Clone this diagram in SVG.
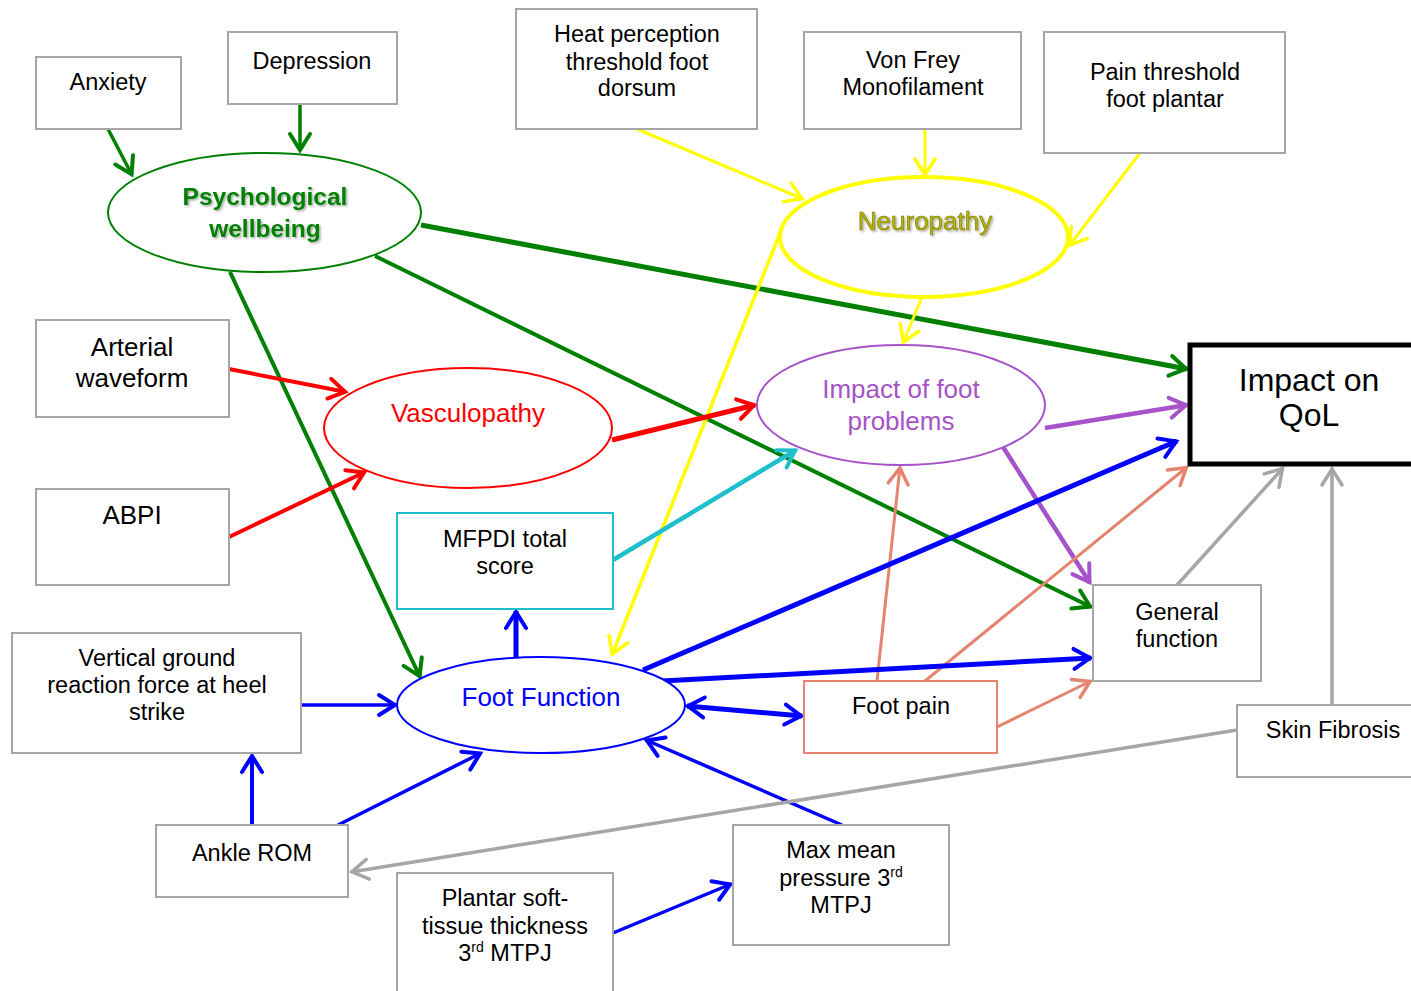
<svg xmlns="http://www.w3.org/2000/svg" width="1411" height="991" viewBox="0 0 1411 991">
<style>
text{font-family:"Liberation Sans",Arial,sans-serif;text-anchor:middle}
.box{fill:#fff;stroke:#a6a6a6;stroke-width:2}
.t{font-size:23.5px;fill:#000}
.tl{font-size:26px;fill:#000}
.el{fill:#fff;stroke-width:2}
.c{fill:none;stroke-linecap:butt}
</style>
<defs>
<filter id="sh" x="-10%" y="-10%" width="130%" height="140%"><feDropShadow dx="1.5" dy="1.5" stdDeviation="0.8" flood-color="#000" flood-opacity="0.35"/></filter>
<marker id="mg" markerUnits="userSpaceOnUse" markerWidth="40" markerHeight="40" viewBox="-20 -20 40 40" refX="0" refY="0" orient="auto" overflow="visible"><path d="M-17,-10 L-1,0 L-17,10" fill="none" stroke="#008000" stroke-width="4" stroke-linecap="round"/></marker>
<marker id="my" markerUnits="userSpaceOnUse" markerWidth="40" markerHeight="40" viewBox="-20 -20 40 40" refX="0" refY="0" orient="auto" overflow="visible"><path d="M-17,-10 L-1,0 L-17,10" fill="none" stroke="#ffff00" stroke-width="3.5" stroke-linecap="round"/></marker>
<marker id="mr" markerUnits="userSpaceOnUse" markerWidth="40" markerHeight="40" viewBox="-20 -20 40 40" refX="0" refY="0" orient="auto" overflow="visible"><path d="M-17,-10 L-1,0 L-17,10" fill="none" stroke="#ff0000" stroke-width="4" stroke-linecap="round"/></marker>
<marker id="mc" markerUnits="userSpaceOnUse" markerWidth="40" markerHeight="40" viewBox="-20 -20 40 40" refX="0" refY="0" orient="auto" overflow="visible"><path d="M-17,-10 L-1,0 L-17,10" fill="none" stroke="#1ebfcc" stroke-width="4" stroke-linecap="round"/></marker>
<marker id="mp" markerUnits="userSpaceOnUse" markerWidth="40" markerHeight="40" viewBox="-20 -20 40 40" refX="0" refY="0" orient="auto" overflow="visible"><path d="M-17,-10 L-1,0 L-17,10" fill="none" stroke="#a652c8" stroke-width="4" stroke-linecap="round"/></marker>
<marker id="ms" markerUnits="userSpaceOnUse" markerWidth="40" markerHeight="40" viewBox="-20 -20 40 40" refX="0" refY="0" orient="auto" overflow="visible"><path d="M-17,-10 L-1,0 L-17,10" fill="none" stroke="#e4846f" stroke-width="3.5" stroke-linecap="round"/></marker>
<marker id="mb" markerUnits="userSpaceOnUse" markerWidth="40" markerHeight="40" viewBox="-20 -20 40 40" refX="0" refY="0" orient="auto-start-reverse" overflow="visible"><path d="M-17,-10 L-1,0 L-17,10" fill="none" stroke="#0000ff" stroke-width="4" stroke-linecap="round"/></marker>
<marker id="ma" markerUnits="userSpaceOnUse" markerWidth="40" markerHeight="40" viewBox="-20 -20 40 40" refX="0" refY="0" orient="auto" overflow="visible"><path d="M-17,-10 L-1,0 L-17,10" fill="none" stroke="#a6a6a6" stroke-width="3.5" stroke-linecap="round"/></marker>
</defs>
<rect width="1411" height="991" fill="#fff"/>

<g id="connectors" class="c">
<line x1="108" y1="129" x2="132" y2="175" stroke="#008000" stroke-width="3.5" marker-end="url(#mg)"/>
<line x1="300" y1="104" x2="300" y2="151" stroke="#008000" stroke-width="3.5" marker-end="url(#mg)"/>
<line x1="421" y1="225" x2="1187" y2="369" stroke="#008000" stroke-width="5" marker-end="url(#mg)"/>
<line x1="375" y1="256" x2="1091" y2="607" stroke="#008000" stroke-width="4" marker-end="url(#mg)"/>
<line x1="230" y1="272" x2="420" y2="677" stroke="#008000" stroke-width="4" marker-end="url(#mg)"/>
<line x1="637" y1="129" x2="803" y2="199" stroke="#ffff00" stroke-width="3" marker-end="url(#my)"/>
<line x1="925" y1="129" x2="925" y2="176" stroke="#ffff00" stroke-width="3" marker-end="url(#my)"/>
<line x1="1140" y1="153" x2="1069" y2="246" stroke="#ffff00" stroke-width="3" marker-end="url(#my)"/>
<line x1="922" y1="297" x2="903" y2="343" stroke="#ffff00" stroke-width="3" marker-end="url(#my)"/>
<line x1="782" y1="228" x2="612" y2="655" stroke="#ffff00" stroke-width="3.5" marker-end="url(#my)"/>
<line x1="229" y1="369" x2="346" y2="392" stroke="#ff0000" stroke-width="4" marker-end="url(#mr)"/>
<line x1="229" y1="537" x2="365" y2="472" stroke="#ff0000" stroke-width="4" marker-end="url(#mr)"/>
<line x1="612" y1="440" x2="755" y2="405" stroke="#ff0000" stroke-width="5" marker-end="url(#mr)"/>
<line x1="613" y1="560" x2="796" y2="450" stroke="#1ebfcc" stroke-width="4.5" marker-end="url(#mc)"/>
<line x1="1045" y1="428" x2="1187" y2="405" stroke="#a652c8" stroke-width="4.5" marker-end="url(#mp)"/>
<line x1="1003" y1="447" x2="1090" y2="583" stroke="#a652c8" stroke-width="4.5" marker-end="url(#mp)"/>
<line x1="877" y1="681" x2="900" y2="467" stroke="#e4846f" stroke-width="3" marker-end="url(#ms)"/>
<line x1="925" y1="681" x2="1187" y2="467" stroke="#e4846f" stroke-width="3" marker-end="url(#ms)"/>
<line x1="997" y1="727" x2="1091" y2="681" stroke="#e4846f" stroke-width="3" marker-end="url(#ms)"/>
<line x1="643" y1="670" x2="1177" y2="441" stroke="#0000ff" stroke-width="5" marker-end="url(#mb)"/>
<line x1="662" y1="681" x2="1091" y2="658" stroke="#0000ff" stroke-width="5" marker-end="url(#mb)"/>
<line x1="687" y1="706" x2="802" y2="716" stroke="#0000ff" stroke-width="5" marker-start="url(#mb)" marker-end="url(#mb)"/>
<line x1="516" y1="657" x2="516" y2="611" stroke="#0000ff" stroke-width="5" marker-end="url(#mb)"/>
<line x1="301" y1="705" x2="396" y2="705" stroke="#0000ff" stroke-width="3.5" marker-end="url(#mb)"/>
<line x1="252" y1="825" x2="252" y2="755" stroke="#0000ff" stroke-width="4" marker-end="url(#mb)"/>
<line x1="338" y1="825" x2="481" y2="753" stroke="#0000ff" stroke-width="3.5" marker-end="url(#mb)"/>
<line x1="842" y1="825" x2="646" y2="740" stroke="#0000ff" stroke-width="3.5" marker-end="url(#mb)"/>
<line x1="613" y1="933" x2="731" y2="884" stroke="#0000ff" stroke-width="3.5" marker-end="url(#mb)"/>
<line x1="1177" y1="585" x2="1283" y2="468" stroke="#a6a6a6" stroke-width="3.5" marker-end="url(#ma)"/>
<line x1="1332" y1="705" x2="1332" y2="468" stroke="#a6a6a6" stroke-width="3.5" marker-end="url(#ma)"/>
<line x1="1237" y1="730" x2="351" y2="872" stroke="#a6a6a6" stroke-width="3.5" marker-end="url(#ma)"/>
</g>

<g id="anxiety"><rect class="box" x="36" y="57" width="145" height="72"/><text class="t" x="108" y="90">Anxiety</text></g>
<g id="depression"><rect class="box" x="228" y="32" width="169" height="72"/><text class="t" x="312" y="69">Depression</text></g>
<g id="heat"><rect class="box" x="516" y="9" width="241" height="120"/><text class="t" x="637" y="42">Heat perception</text><text class="t" x="637" y="70">threshold foot</text><text class="t" x="637" y="96">dorsum</text></g>
<g id="vonfrey"><rect class="box" x="804" y="32" width="217" height="97"/><text class="t" x="913" y="68">Von Frey</text><text class="t" x="913" y="95">Monofilament</text></g>
<g id="painthreshold"><rect class="box" x="1044" y="32" width="241" height="121"/><text class="t" x="1165" y="80">Pain threshold</text><text class="t" x="1165" y="107">foot plantar</text></g>
<g id="arterial"><rect class="box" x="36" y="320" width="193" height="97"/><text class="tl" x="132" y="356">Arterial</text><text class="tl" x="132" y="387">waveform</text></g>
<g id="abpi"><rect class="box" x="36" y="489" width="193" height="96"/><text class="tl" x="132" y="524">ABPI</text></g>
<g id="mfpdi"><rect x="397" y="513" width="216" height="96" fill="#fff" stroke="#1ebfcc" stroke-width="2"/><text class="t" x="505" y="547">MFPDI total</text><text class="t" x="505" y="574">score</text></g>
<g id="vgrf"><rect class="box" x="12" y="633" width="289" height="120"/><text class="t" x="157" y="666">Vertical ground</text><text class="t" x="157" y="693">reaction force at heel</text><text class="t" x="157" y="720">strike</text></g>
<g id="anklerom"><rect class="box" x="156" y="825" width="192" height="72"/><text class="t" x="252" y="861">Ankle ROM</text></g>
<g id="plantar"><rect class="box" x="397" y="873" width="216" height="130"/><text class="t" x="505" y="906">Plantar soft-</text><text class="t" x="505" y="934">tissue thickness</text><text class="t" x="505" y="961">3<tspan font-size="14" dy="-9">rd</tspan><tspan dy="9"> MTPJ</tspan></text></g>
<g id="maxmean"><rect class="box" x="733" y="825" width="216" height="120"/><text class="t" x="841" y="858">Max mean</text><text class="t" x="841" y="886">pressure 3<tspan font-size="14" dy="-9">rd</tspan></text><text class="t" x="841" y="913">MTPJ</text></g>
<g id="footpain"><rect x="804" y="681" width="193" height="72" fill="#fff" stroke="#e4846f" stroke-width="2"/><text class="t" x="901" y="714">Foot pain</text></g>
<g id="general"><rect class="box" x="1093" y="585" width="168" height="96"/><text class="t" x="1177" y="620">General</text><text class="t" x="1177" y="647">function</text></g>
<g id="skinfibrosis"><rect class="box" x="1237" y="705" width="190" height="72"/><text class="t" x="1333" y="738">Skin Fibrosis</text></g>
<g id="qol"><rect x="1190" y="345" width="260" height="119" fill="#fff" stroke="#000" stroke-width="5"/><text x="1309" y="391" font-size="32" fill="#000">Impact on</text><text x="1309" y="426" font-size="32" fill="#000">QoL</text></g>

<g id="psych"><ellipse class="el" cx="264.5" cy="212.5" rx="156.5" ry="59.5" stroke="#008000"/><g filter="url(#sh)"><text x="265" y="205" font-size="24.5" font-weight="bold" fill="#008000">Psychological</text><text x="265" y="237" font-size="24.5" font-weight="bold" fill="#008000">wellbeing</text></g></g>
<g id="neuropathy"><ellipse cx="924" cy="237" rx="144" ry="60" fill="#fff" stroke="#ffff00" style="stroke-width:4"/><text x="925" y="230" font-size="26" fill="#b8b800" stroke="#7a7a00" stroke-width="0.6" filter="url(#sh)">Neuropathy</text></g>
<g id="vasculopathy"><ellipse class="el" cx="468" cy="428" rx="144" ry="60" stroke="#ff0000"/><text x="468" y="422" font-size="26" fill="#ff0000">Vasculopathy</text></g>
<g id="impactfoot"><ellipse class="el" cx="901" cy="405" rx="144" ry="60" stroke="#a652c8"/><text x="901" y="398" font-size="26" fill="#a652c8">Impact of foot</text><text x="901" y="430" font-size="26" fill="#a652c8">problems</text></g>
<g id="footfunction"><ellipse class="el" cx="541" cy="705" rx="144" ry="48" stroke="#0000ff"/><text x="541" y="706" font-size="26" fill="#0000ff">Foot Function</text></g>
</svg>
